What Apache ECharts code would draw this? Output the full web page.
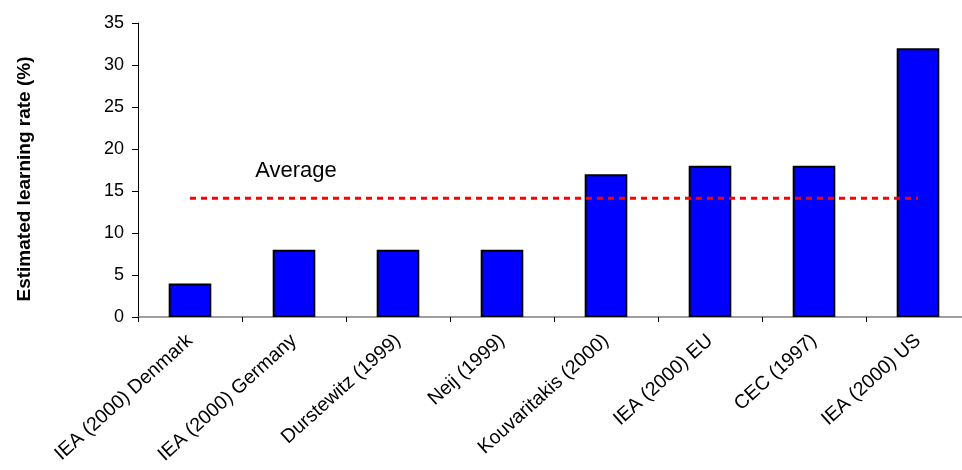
<!DOCTYPE html>
<html>
<head>
<meta charset="utf-8">
<script src="https://cdn.jsdelivr.net/npm/echarts@6/dist/echarts.min.js"></script>
<style>
  html, body { margin: 0; padding: 0; background: #fff; overflow: hidden; }
  #chart { width: 970px; height: 470px; }
</style>
</head>
<body>
<div id="chart"></div>
<script>
const categories = [
  'IEA (2000) Denmark',
  'IEA (2000) Germany',
  'Durstewitz (1999)',
  'Neij (1999)',
  'Kouvaritakis (2000)',
  'IEA (2000) EU',
  'CEC (1997)',
  'IEA (2000) US'
]
const learningRates = [4, 8, 8, 8, 17, 18, 18, 32]
const yTicks = [0, 5, 10, 15, 20, 25, 30, 35]

// the dotted line is the mean of the bars
const average = learningRates.reduce((a, b) => a + b, 0) / learningRates.length
const averageLine = categories.map(() => average)

// the plot runs a little past the right edge of the 962px window, as in the original
const chart = echarts.init(document.getElementById('chart'))
chart.setOption({
  animation: false,
  textStyle: { fontFamily: 'Liberation Sans, Arial, sans-serif' },
  grid: {
    left: 138,
    right: 0,
    top: 23,
    bottom: 153
  },
  xAxis: {
    type: 'category',
    data: categories,
    boundaryGap: true,
    axisLine: { lineStyle: { color: '#808080', width: 1.5 } },
    axisTick: { show: true, length: 5, lineStyle: { color: '#000' } },
    axisLabel: {
      rotate: 42,
      margin: 21,
      fontSize: 19.5,
      color: '#000',
      interval: 0
    }
  },
  yAxis: {
    type: 'value',
    min: yTicks[0],
    max: yTicks[yTicks.length - 1],
    interval: 5,
    name: 'Estimated learning rate (%)',
    nameLocation: 'middle',
    nameGap: 104,
    nameTextStyle: { fontSize: 19, fontWeight: 'bold', color: '#000', padding: [0, 18, 0, 0] },
    splitLine: { show: false },
    axisLine: { show: true, lineStyle: { color: '#000', width: 1 } },
    axisTick: { show: true, length: 6, lineStyle: { color: '#000' } },
    axisLabel: { fontSize: 18, color: '#000', margin: 14 }
  },
  series: [
    {
      type: 'bar',
      data: learningRates,
      barWidth: '41%',
      itemStyle: { color: '#0000ff', borderColor: '#000', borderWidth: 2 }
    },
    {
      type: 'line',
      data: averageLine,
      symbol: 'none',
      z: 5,
      lineStyle: { color: '#ff0000', width: 3, type: [6, 5] },
      markPoint: {
        symbol: 'rect',
        symbolSize: 0,
        data: [{ coord: [1, average], value: 'Average' }],
        label: {
          show: true,
          formatter: 'Average',
          fontSize: 22,
          color: '#000',
          offset: [2, -27]
        }
      }
    }
  ]
})
</script>
</body>
</html>
